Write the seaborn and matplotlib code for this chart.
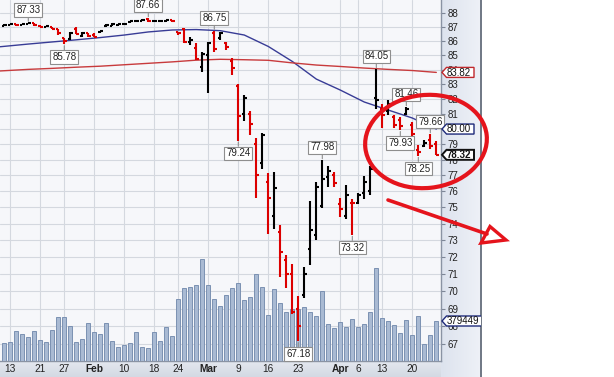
import numpy as np
import matplotlib
matplotlib.use("Agg")
import matplotlib.pyplot as plt
import seaborn as sns
from matplotlib.patches import Ellipse, Polygon
from matplotlib.ticker import NullLocator
from matplotlib.colors import LinearSegmentedColormap

# ---------------- data (trading-day index 0 = 10 Jan 2020 ... 72 = 24 Apr 2020) ----------------
days = list(range(73))
opens = [87.12, 87.16, 87.20, 87.16, 87.25, 87.27, 87.12, 87.02, 86.98, 86.85,
         86.20, 86.15, 86.90, 86.40, 86.55, 86.45, 86.64, 87.05, 87.12, 87.18,
         87.20, 87.35, 87.43, 87.48, 87.58, 87.45, 87.42, 87.44, 87.50, 86.65,
         86.90, 85.95, 85.50, 84.20, 85.00, 86.60, 86.20, 85.90, 84.60, 82.90,
         81.00, 81.00, 79.00, 77.80, 76.60, 74.50, 73.50, 71.80, 71.00, 69.00,
         69.80, 72.50, 73.30, 75.10, 76.90, 77.00, 75.20, 74.50, 75.30, 75.30,
         75.90, 76.00, 82.10, 81.30, 81.20, 80.80, 80.60, 81.00, 80.30, 78.60,
         78.90, 79.30, 79.00]
highs = [87.20, 87.24, 87.22, 87.26, 87.33, 87.28, 87.16, 87.08, 87.00, 86.88,
         86.25, 86.65, 87.03, 86.63, 86.57, 86.55, 86.75, 87.20, 87.28, 87.24,
         87.28, 87.46, 87.52, 87.57, 87.66, 87.50, 87.50, 87.52, 87.52, 86.68,
         86.92, 86.27, 85.86, 85.26, 85.95, 86.75, 86.65, 85.96, 84.80, 83.00,
         82.30, 81.20, 79.40, 79.75, 77.15, 77.20, 73.90, 72.10, 71.60, 69.70,
         71.40, 75.40, 76.60, 77.98, 77.60, 77.20, 75.60, 76.40, 75.50, 75.90,
         76.95, 77.60, 84.05, 81.65, 81.95, 80.90, 80.80, 81.46, 80.45, 78.95,
         79.25, 79.66, 79.20]
lows = [87.10, 87.14, 87.12, 87.14, 87.22, 87.10, 86.98, 86.99, 86.86, 86.45,
        85.78, 86.10, 86.52, 86.32, 86.27, 86.28, 86.62, 87.03, 87.08, 87.08,
        87.15, 87.32, 87.41, 87.45, 87.40, 87.38, 87.36, 87.38, 87.38, 86.42,
        85.86, 85.75, 84.69, 83.86, 82.40, 85.25, 86.10, 85.40, 83.63, 79.24,
        80.55, 79.60, 75.60, 77.40, 73.37, 73.70, 70.80, 70.20, 68.70, 67.18,
        69.60, 71.50, 73.00, 74.95, 76.30, 76.30, 74.40, 74.30, 73.32, 75.20,
        75.50, 75.80, 81.30, 80.10, 80.90, 80.05, 79.93, 80.90, 79.50, 78.25,
        78.80, 78.70, 78.28]
closes = [87.17, 87.22, 87.15, 87.24, 87.30, 87.14, 87.02, 87.06, 86.90, 86.55,
          86.05, 86.55, 86.53, 86.58, 86.35, 86.32, 86.72, 87.15, 87.22, 87.23,
          87.26, 87.42, 87.48, 87.52, 87.45, 87.47, 87.48, 87.50, 87.42, 86.55,
          85.95, 86.10, 84.75, 85.10, 85.85, 85.45, 86.55, 85.60, 84.10, 80.85,
          82.05, 80.35, 77.05, 79.60, 75.60, 76.20, 72.30, 71.00, 68.80, 68.00,
          71.00, 73.60, 76.30, 76.80, 77.30, 76.50, 74.90, 75.80, 75.25, 75.80,
          76.60, 77.40, 81.95, 80.90, 81.70, 80.30, 80.20, 81.30, 79.70, 78.50,
          79.10, 78.90, 78.32]
volume = [168000, 180000, 282000, 256000, 225000, 282000, 199000, 180000, 294000, 415000,
          415000, 332000, 180000, 206000, 358000, 275000, 256000, 358000, 187000, 136000,
          149000, 168000, 275000, 130000, 123000, 275000, 187000, 320000, 237000, 585000,
          692000, 705000, 718000, 968000, 718000, 585000, 522000, 626000, 690000, 737000,
          579000, 607000, 825000, 702000, 436000, 680000, 550000, 465000, 498000, 489000,
          509000, 465000, 427000, 664000, 351000, 313000, 370000, 325000, 398000, 323000,
          351000, 465000, 882000, 408000, 379000, 341000, 266000, 386000, 247000, 424000,
          161000, 244000, 379449]
sma_days = [-0.7, 4, 8, 12, 16, 20, 24, 28, 32, 36, 40, 44, 48, 52, 56, 60, 64, 68, 72]
sma_short = [85.61, 85.80, 85.95, 86.10, 86.26, 86.44, 86.66, 86.80, 86.83, 86.75,
             86.44, 85.63, 84.58, 83.36, 82.61, 81.80, 81.26, 80.73, 80.00]
sma_long = [83.92, 84.03, 84.10, 84.18, 84.25, 84.35, 84.45, 84.55, 84.67, 84.73,
            84.70, 84.66, 84.48, 84.33, 84.23, 84.12, 84.03, 83.95, 83.82]
xtick_days = [1, 6, 10, 15, 20, 25, 29, 34, 39, 44, 49, 56, 59, 63, 68]
xtick_labels = ["13", "21", "27", "Feb", "10", "18", "24", "Mar", "9", "16", "23", "Apr", "6", "13", "20"]
ytick_values = list(range(67, 89))
high_marks = [(4, 87.33), (24, 87.66), (35, 86.75), (53, 77.98), (62, 84.05), (67, 81.46), (71, 79.66)]
low_marks = [(10, 85.78), (39, 79.24), (49, 67.18), (58, 73.32), (66, 79.93), (69, 78.25)]

# ---------------- style ----------------
sns.set_style("white")
plt.rcParams['font.family'] = ['Liberation Sans', 'DejaVu Sans']

W, H = 614, 377
fig = plt.figure(figsize=(W / 100, H / 100), dpi=100)
fig.patch.set_facecolor('white')

# background layer: right price panel + bottom date strip
bg = fig.add_axes([0, 0, 1, 1], zorder=0)
bg.axis('off')
grad = np.linspace(0, 1, 64).reshape(1, -1)
bg.imshow(grad, extent=[441, 481, 377, 0], aspect='auto',
          cmap=LinearSegmentedColormap.from_list('p', ['#dde3ee', '#eef1f7']))
bg.imshow(grad.T, extent=[0, 441, 377, 361], aspect='auto',
          cmap=LinearSegmentedColormap.from_list('s', ['#e4e8ef', '#d3d9e3']))
bg.plot([481, 481], [0, 377], color='#6f7784', lw=1.4)
bg.set_xlim(0, W)
bg.set_ylim(H, 0)

# main (grid / tick) axes on log price scale
YMIN, YMAX = 66.09, 88.97
XMIN, XMAX = -0.717, 72.78
ax = fig.add_axes([0, 16 / H, 441 / W, 361 / H], zorder=1)
ax.set_facecolor('#f6f7fa')
ax.set_yscale('log')

# volume layer
axv = ax.twinx()
axv.set_zorder(2)
axv.patch.set_visible(False)
sns.barplot(x=days, y=volume, native_scale=True, ax=axv, color='#a9bad3',
            edgecolor='#7b91b2', linewidth=0.7, width=0.62, errorbar=None, saturation=1)
axv.set_ylim(0, 361 * 9486)
axv.set_ylabel('')
axv.set_xlabel('')
axv.yaxis.set_visible(False)
for s in axv.spines.values():
    s.set_visible(False)

# price layer
axp = ax.twinx()
axp.set_zorder(3)
axp.patch.set_visible(False)
axp.set_yscale('log')
d = np.array(days, dtype=float)
o = np.array(opens); c = np.array(closes)
prev = np.concatenate([[o[0]], c[:-1]])
cols = np.where(c < prev, '#dc0000', '#000000')
axp.vlines(d, lows, highs, colors=cols, lw=1.5, zorder=3)
axp.hlines(o, d - 0.45, d, colors=cols, lw=1.5, zorder=3)
axp.hlines(c, d, d + 0.45, colors=cols, lw=1.5, zorder=3)
sns.lineplot(x=sma_days, y=sma_short, ax=axp, color='#383c96', lw=1.0,
             estimator=None, sort=False, zorder=2)
sns.lineplot(x=sma_days, y=sma_long, ax=axp, color='#c83a3c', lw=1.0,
             estimator=None, sort=False, zorder=2)
axp.set_ylim(YMIN, YMAX)
axp.yaxis.set_visible(False)
axp.set_ylabel('')
for s in axp.spines.values():
    s.set_visible(False)

box = dict(boxstyle='square,pad=0.18', fc='white', ec='#8e8e8e', lw=0.8)
arr = dict(arrowstyle='-', color='#8e8e8e', lw=0.8, shrinkA=0, shrinkB=1)
for k, v in high_marks:
    axp.annotate(f"{v:.2f}", xy=(k, v), xytext=(0, 5.5), textcoords='offset points',
                 ha='center', va='bottom', fontsize=7, color='#222', bbox=box,
                 arrowprops=arr, zorder=6)
for k, v in low_marks:
    axp.annotate(f"{v:.2f}", xy=(k, v), xytext=(0, -5.5), textcoords='offset points',
                 ha='center', va='top', fontsize=7, color='#222', bbox=box,
                 arrowprops=arr, zorder=6)

# grid / ticks on the base axes
ax.set_ylim(YMIN, YMAX)
ax.set_yticks(ytick_values)
ax.set_yticklabels([str(t) for t in ytick_values])
ax.yaxis.set_minor_locator(NullLocator())
ax.yaxis.tick_right()
ax.tick_params(axis='y', which='major', right=True, left=False, length=3, width=0.8,
               color='#7d8696', pad=1.5, labelsize=7, labelcolor='#222')
ax.set_xlim(XMIN, XMAX)
ax.set_xticks(xtick_days)
ax.set_xticklabels(xtick_labels)
ax.tick_params(axis='x', length=0, pad=2.2, labelsize=7.3, labelcolor='#222')
for lab in ax.get_xticklabels():
    if lab.get_text() in ('Feb', 'Mar', 'Apr'):
        lab.set_fontweight('bold')
ax.grid(True, color='#d4d8df', lw=0.8)
ax.set_axisbelow(True)
for side in ('left', 'top'):
    ax.spines[side].set_visible(False)
for side in ('right', 'bottom'):
    ax.spines[side].set_color('#8a93a3')
    ax.spines[side].set_linewidth(1.0)
axv.set_xlim(XMIN, XMAX)
axp.set_xlim(XMIN, XMAX)

# right-edge value flags (clipped at the panel edge)
ov = fig.add_axes([0, 0, 481 / W, 1], zorder=5)
ov.axis('off')
ov.set_xlim(0, 481)
ov.set_ylim(H, 0)

def ypix(axis, val):
    return H - axis.transData.transform((0, val))[1]

flags = [(ypix(axp, sma_long[-1]), f"{sma_long[-1]:.2f}", '#c0282c', 'normal', 474),
         (ypix(axp, sma_short[-1]), f"{sma_short[-1]:.2f}", '#1e2a7a', 'normal', 474),
         (ypix(axp, closes[-1]), f"{closes[-1]:.2f}", '#111111', 'bold', 474),
         (ypix(axv, volume[-1]), f"{volume[-1]}", '#1e2a7a', 'normal', 488)]
for yp, txt, ec, fw, right in flags:
    poly = Polygon([(442, yp), (446.5, yp - 5), (right, yp - 5), (right, yp + 5), (446.5, yp + 5)],
                   closed=True, fc='white', ec=ec, lw=1.0 if fw == 'normal' else 1.4)
    ov.add_patch(poly)
    t = ov.text(447, yp + 0.3, txt, ha='left', va='center', fontsize=7, color='#111', fontweight=fw)
    t.set_clip_on(True)

# hand-drawn red annotations
an = fig.add_axes([0, 0, 1, 1], zorder=10)
an.axis('off')
an.set_xlim(0, W)
an.set_ylim(H, 0)
an.add_patch(Ellipse((426, 141.5), 122, 93, angle=-6, fill=False, ec='#e5141c', lw=3.0))
an.plot([388, 487], [200, 234], color='#e5141c', lw=2.6, solid_capstyle='round')
an.add_patch(Polygon([(481, 243), (490, 226.5), (506, 240)], closed=True, fill=False,
                     ec='#e5141c', lw=2.4, joinstyle='miter'))

fig.savefig('out.png', dpi=100, facecolor='white')
